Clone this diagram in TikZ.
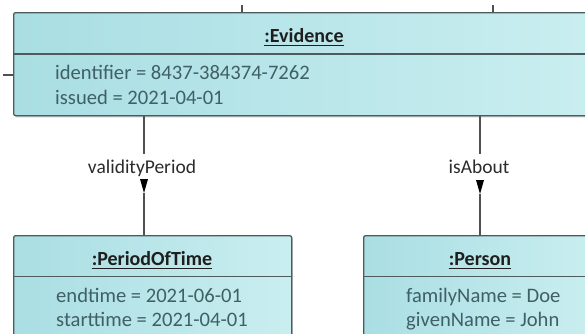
\documentclass[tikz,border=0pt]{standalone}
\usepackage{fontspec}
\setmainfont{Carlito}
\usetikzlibrary{shadows}
\definecolor{boxL}{HTML}{A9DEE3}
\definecolor{boxR}{HTML}{CAEEF0}
\definecolor{edgec}{HTML}{4E5B5D}
\definecolor{attrc}{HTML}{3F6064}
\definecolor{ttlc}{HTML}{1E1E1E}
\definecolor{lblc}{HTML}{2B2B2B}
\definecolor{connc}{HTML}{505050}
\tikzset{
  objbox/.style={draw=edgec, line width=1.3pt, rounded corners=2pt,
    left color=boxL, right color=boxR, anchor=north west, inner sep=0pt,
    drop shadow={shadow xshift=1.2pt, shadow yshift=-1.6pt, fill=black!35, opacity=0.6}},
  sepline/.style={draw=edgec, line width=1.6pt},
  ttltext/.style={font=\fontsize{20}{24}\selectfont\bfseries, text=ttlc, inner sep=0pt, anchor=base},
  attrtext/.style={font=\fontsize{20.6}{24}\selectfont, text=attrc, inner sep=0pt, anchor=base west},
  lbltext/.style={font=\fontsize{19.5}{23}\selectfont, text=lblc, inner sep=0pt, anchor=base},
  conn/.style={draw=connc, line width=1.2pt},
  navtip/.style={fill=black},
  uline/.style={draw=ttlc, line width=1pt},
}
\begin{document}
\begin{tikzpicture}[x=1pt,y=-1pt]
\useasboundingbox[fill=white] (0,0) rectangle (585,333);
\begin{scope}
\clip (0,0) rectangle (585,333);
% boxes
\node[objbox, minimum width=582pt, minimum height=103pt] (ev) at (13,12) {};
\node[objbox, minimum width=278pt, minimum height=115pt] (pt) at (13,235) {};
\node[objbox, minimum width=234pt, minimum height=115pt] (pe) at (363,235) {};
% separators
\draw[sepline] (ev.west |- 0,54) -- (ev.east |- 0,54);
\draw[sepline] (pt.west |- 0,276.5) -- (pt.east |- 0,276.5);
\draw[sepline] (pe.west |- 0,276.5) -- (pe.east |- 0,276.5);
% titles
\node[ttltext] (evt) at (304,42) {:Evidence};
\draw[uline] ([yshift=-3pt]evt.base west) -- ([yshift=-3pt]evt.base east);
\node[ttltext] (ptt) at (152,265) {:PeriodOfTime};
\draw[uline] ([yshift=-3pt]ptt.base west) -- ([yshift=-3pt]ptt.base east);
\node[ttltext] (pet) at (480,265) {:Person};
\draw[uline] ([yshift=-3pt]pet.base west) -- ([yshift=-3pt]pet.base east);
% attributes
\node[attrtext] (ev1) at (55,79.5) {identifier = 8437-384374-7262};
\node[attrtext] (ev2) at (55,104) {issued = 2021-04-01};
\node[attrtext] (pt1) at (56,302) {endtime = 2021-06-01};
\node[attrtext] (pt2) at (56,326) {starttime = 2021-04-01};
\node[attrtext] (pe1) at (406,302) {familyName = Doe};
\node[attrtext] (pe2) at (406,326) {givenName = John};
% stub connectors
\coordinate (t1) at (242,5);
\coordinate (t2) at (493,5);
\coordinate (l1) at (3,75);
\draw[conn] (t1) -- (t1 |- ev.north);
\draw[conn] (t2) -- (t2 |- ev.north);
\draw[conn] (l1) -- (l1 -| ev.west);
% validityPeriod
\coordinate (v1) at (144,154);
\coordinate (v2) at (144,179);
\coordinate (v3) at (144,193);
\node[lbltext] (lv) at (142,173) {validityPeriod};
\draw[conn] (v1 |- ev.south) -- (v1);
\fill[navtip] ([xshift=-4pt]v2) -- ([xshift=4pt]v2) -- (v3) -- cycle;
\draw[conn] (v3) -- (v3 |- pt.north);
% isAbout
\coordinate (a1) at (480,154);
\coordinate (a2) at (480,180);
\coordinate (a3) at (480,194);
\node[lbltext] (la) at (479,173) {isAbout};
\draw[conn] (a1 |- ev.south) -- (a1);
\fill[navtip] ([xshift=-4pt]a2) -- ([xshift=4pt]a2) -- (a3) -- cycle;
\draw[conn] (a3) -- (a3 |- pe.north);
\end{scope}
\end{tikzpicture}
\end{document}
